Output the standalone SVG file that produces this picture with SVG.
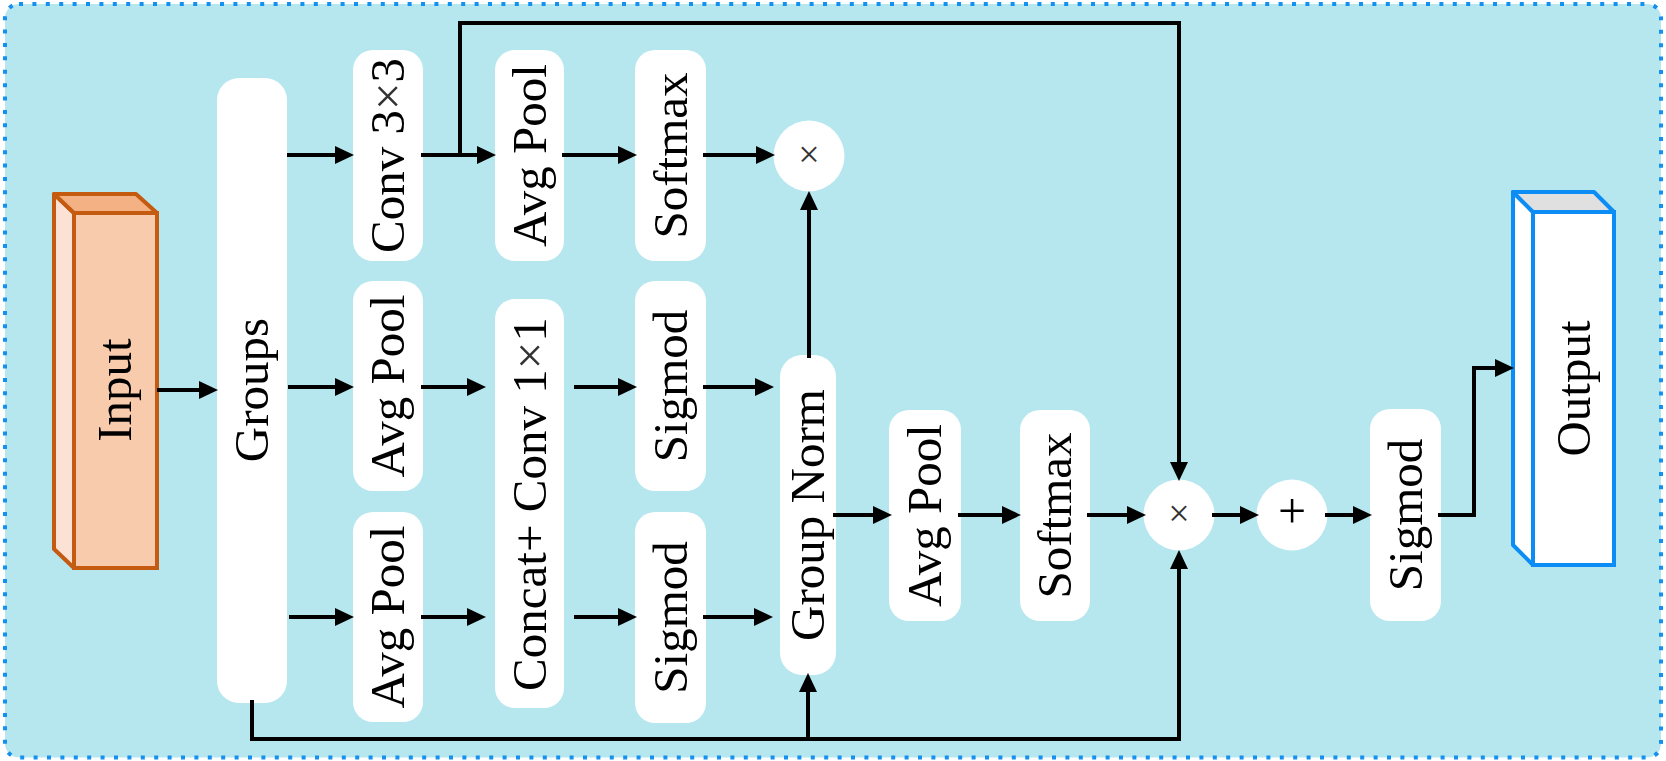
<svg xmlns="http://www.w3.org/2000/svg" width="1666" height="761" viewBox="0 0 1666 761">
<style>
.box{fill:#ffffff}
.lbl{font-family:"Liberation Serif","Times New Roman",serif;font-size:49px;fill:#000;text-anchor:middle}
.x{fill:#333}
.conn{fill:none;stroke:#000;stroke-width:4;stroke-linejoin:miter}
.arr{marker-end:url(#ah)}
</style>
<defs>
<marker id="ah" markerUnits="userSpaceOnUse" markerWidth="19" markerHeight="18" refX="8" refY="9" orient="auto" overflow="visible">
<path d="M0,0 L19,9 L0,18 z" fill="#000"/>
</marker>
</defs>
<rect id="background" x="5" y="4" width="1656" height="753.5" rx="14" fill="#b6e7ef" stroke="#1490f0" stroke-width="4" stroke-dasharray="4 9.4"/>

<g id="input">
<polygon points="54,194 74,213 74,568 54,549" fill="#fbe2d5" stroke="#c55a11" stroke-width="4" stroke-linejoin="round"/>
<polygon points="54,194 136,194 157,213 74,213" fill="#f4b183" stroke="#c55a11" stroke-width="4" stroke-linejoin="round"/>
<rect x="74" y="213" width="83" height="355" fill="#f8cbad" stroke="#c55a11" stroke-width="4"/>
<text class="lbl" transform="translate(131,390) rotate(-90)">Input</text>
</g>

<g id="groups">
<rect class="box" x="217" y="78" width="70" height="625" rx="22"/>
<text class="lbl" transform="translate(268,390) rotate(-90)">Groups</text>
</g>

<g id="conv3x3">
<rect class="box" x="353" y="50" width="70" height="211" rx="20"/>
<text class="lbl" transform="translate(404,155.5) rotate(-90)">Conv 3<tspan class="x">×</tspan>3</text>
</g>
<g id="avgpool1">
<rect class="box" x="495" y="50" width="69" height="211" rx="20"/>
<text class="lbl" transform="translate(545.5,155.5) rotate(-90)">Avg Pool</text>
</g>
<g id="softmax1">
<rect class="box" x="635" y="50" width="71" height="211" rx="20"/>
<text class="lbl" transform="translate(686.5,155.5) rotate(-90)">Softmax</text>
</g>
<g id="mul1">
<circle cx="809" cy="156" r="35.5" fill="#fff"/>
<text x="809" y="167" font-family="Liberation Serif, serif" font-size="38" fill="#333" text-anchor="middle">×</text>
</g>

<g id="avgpool2">
<rect class="box" x="353" y="281" width="70" height="210" rx="20"/>
<text class="lbl" transform="translate(404,386) rotate(-90)">Avg Pool</text>
</g>
<g id="avgpool3">
<rect class="box" x="353" y="512" width="70" height="210" rx="20"/>
<text class="lbl" transform="translate(404,617) rotate(-90)">Avg Pool</text>
</g>
<g id="concat">
<rect class="box" x="495" y="299" width="69" height="409" rx="20"/>
<text class="lbl" transform="translate(545.5,504) rotate(-90)">Concat+ Conv 1<tspan class="x">×</tspan>1</text>
</g>
<g id="sigmod2">
<rect class="box" x="635" y="281" width="71" height="210" rx="20"/>
<text class="lbl" transform="translate(686.5,386) rotate(-90)">Sigmod</text>
</g>
<g id="sigmod3">
<rect class="box" x="635" y="512" width="71" height="211" rx="20"/>
<text class="lbl" transform="translate(686.5,617.5) rotate(-90)">Sigmod</text>
</g>
<g id="groupnorm">
<rect class="box" x="780" y="355" width="56" height="320" rx="22"/>
<text class="lbl" transform="translate(824,515) rotate(-90)">Group Norm</text>
</g>
<g id="avgpool4">
<rect class="box" x="889" y="410" width="72" height="211" rx="20"/>
<text class="lbl" transform="translate(941,515.5) rotate(-90)">Avg Pool</text>
</g>
<g id="softmax2">
<rect class="box" x="1020" y="410" width="70" height="211" rx="20"/>
<text class="lbl" transform="translate(1071,515.5) rotate(-90)">Softmax</text>
</g>
<g id="mul2">
<circle cx="1179" cy="515" r="35.5" fill="#fff"/>
<text x="1179" y="526" font-family="Liberation Serif, serif" font-size="38" fill="#333" text-anchor="middle">×</text>
</g>
<g id="add">
<circle cx="1292" cy="515" r="35.5" fill="#fff"/>
<text x="1292" y="527.5" font-family="Liberation Serif, serif" font-size="50" fill="#000" text-anchor="middle">+</text>
</g>
<g id="sigmod4">
<rect class="box" x="1370" y="409" width="71" height="212" rx="20"/>
<text class="lbl" transform="translate(1421.5,515) rotate(-90)">Sigmod</text>
</g>

<g id="output">
<polygon points="1513,192 1533,212 1533,565 1513,545" fill="#ffffff" stroke="#0b8df5" stroke-width="4" stroke-linejoin="round"/>
<polygon points="1513,192 1594,192 1614,212 1533,212" fill="#e0e0e0" stroke="#0b8df5" stroke-width="4" stroke-linejoin="round"/>
<rect x="1533" y="212" width="81" height="353" fill="#ffffff" stroke="#0b8df5" stroke-width="4"/>
<text class="lbl" transform="translate(1589.5,388.5) rotate(-90)">Output</text>
</g>

<g id="connectors">
<path class="conn arr" d="M157,390 H207"/>
<path class="conn arr" d="M287,155 H343"/>
<path class="conn arr" d="M288,387 H343"/>
<path class="conn arr" d="M289,617 H343"/>
<path class="conn arr" d="M421,155 H485"/>
<path class="conn arr" d="M460,155 V23 H1179 V470"/>
<path class="conn arr" d="M562,155 H626"/>
<path class="conn arr" d="M703,155 H764"/>
<path class="conn arr" d="M421,387 H475"/>
<path class="conn arr" d="M421,617 H475"/>
<path class="conn arr" d="M574,387 H626"/>
<path class="conn arr" d="M574,617 H626"/>
<path class="conn arr" d="M703,387 H763"/>
<path class="conn arr" d="M703,617 H762"/>
<path class="conn arr" d="M809,358 V202"/>
<path class="conn arr" d="M252,700 V739 H1179 V561"/>
<path class="conn arr" d="M808,739 V684"/>
<path class="conn arr" d="M833,515 H881"/>
<path class="conn arr" d="M958,515 H1010"/>
<path class="conn arr" d="M1087,515 H1135"/>
<path class="conn arr" d="M1212,515 H1248"/>
<path class="conn arr" d="M1325,515 H1361"/>
<path class="conn arr" d="M1438,515 H1474 V368 H1503"/>
</g>
</svg>
